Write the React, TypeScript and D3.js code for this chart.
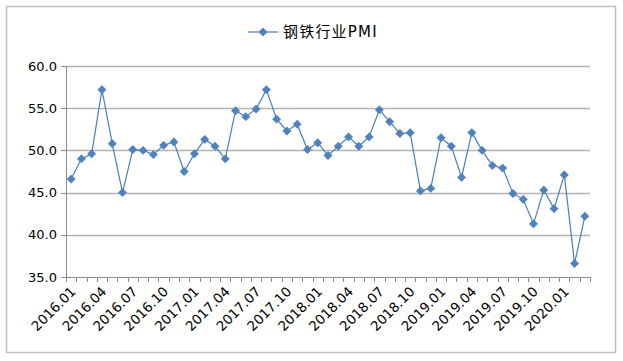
import React from "react";
import * as d3 from "d3";

const months: string[] = [];
for (let y = 2016; y <= 2020; y++) {
  for (let m = 1; m <= 12; m++) {
    if (y === 2020 && m > 3) break;
    months.push(`${y}.${String(m).padStart(2, "0")}`);
  }
}
const pmi = [
  46.6, 49.0, 49.6, 57.2, 50.8, 45.0, 50.1, 50.0, 49.5, 50.6, 51.0, 47.5,
  49.6, 51.3, 50.5, 49.0, 54.7, 54.0, 54.9, 57.2, 53.7, 52.3, 53.1, 50.1,
  50.9, 49.4, 50.5, 51.6, 50.5, 51.6, 54.8, 53.4, 52.0, 52.1, 45.2, 45.5,
  51.5, 50.5, 46.8, 52.1, 50.0, 48.2, 47.9, 44.9, 44.2, 41.3, 45.3, 43.1,
  47.1, 36.6, 42.2,
];
const yTicks = [35, 40, 45, 50, 55, 60];
const seriesName = "钢铁行业PMI";

const W = 623, H = 361;
const L = 66, R = 590, T = 66, B = 277;
const blue = "#4a7ebb";
const font = "'DejaVu Sans', 'Liberation Sans', sans-serif";
const legendFont = "'DejaVu Sans', 'Noto Sans CJK SC', sans-serif";

export default function App() {
  const x = d3.scaleBand<string>().domain(months).range([L, R]);
  const y = d3.scaleLinear().domain([35, 60]).range([B, T]);
  const line = d3
    .line<number>()
    .x((_, i) => x(months[i])! + x.bandwidth() / 2)
    .y((d) => y(d));
  const diamond = (cx: number, cy: number, r = 4.2) =>
    `M${cx},${cy - r}L${cx + r},${cy}L${cx},${cy + r}L${cx - r},${cy}Z`;
  const bounds = months.map((m) => x(m)!).concat([R]);
  return (
    <svg width={W} height={H} style={{ position: "absolute", left: 0, top: 0 }}>
      <rect x={0} y={0} width={W} height={H} fill="#fff" />
      <rect x={6.5} y={6.5} width={609} height={346} fill="#fff" stroke="#bfbfbf" strokeWidth={1.5} />
      {yTicks.map((t) => (
        <g key={t}>
          {t !== 35 && (
            <line x1={L} x2={R} y1={Math.round(y(t)) + 0.5} y2={Math.round(y(t)) + 0.5} stroke="#b3b3b3" strokeWidth={1.3} />
          )}
          <text x={L - 9} y={y(t)} dy="0.36em" textAnchor="end" fontFamily={font} fontSize={13} fill="#000">
            {t.toFixed(1)}
          </text>
        </g>
      ))}
      {yTicks.map((t) => (
        <line key={"yt" + t} x1={L - 5} x2={L} y1={Math.round(y(t)) + 0.5} y2={Math.round(y(t)) + 0.5} stroke="#8c8c8c" />
      ))}
      <line x1={L + 0.5} x2={L + 0.5} y1={T} y2={B + 5} stroke="#8c8c8c" />
      <line x1={L} x2={R} y1={B + 0.5} y2={B + 0.5} stroke="#8c8c8c" />
      {bounds.map((bx, i) => (
        <line key={"xt" + i} x1={Math.round(bx) + 0.5} x2={Math.round(bx) + 0.5} y1={B} y2={B + 5} stroke="#8c8c8c" />
      ))}
      <path d={line(pmi)!} fill="none" stroke={blue} strokeWidth={1.2} />
      {pmi.map((v, i) => (
        <path key={"p" + i} d={diamond(x(months[i])! + x.bandwidth() / 2, y(v))} fill="#4f81bd" stroke="#4a7ebb" strokeWidth={0.5} />
      ))}
      {months.map((m, i) =>
        i % 3 === 0 ? (
          <text
            key={"xl" + m}
            transform={`translate(${x(m)! + x.bandwidth() / 2 + 2},${B + 12}) rotate(-45)`}
            textAnchor="end"
            dy="0.36em"
            fontFamily={font}
            fontSize={13.5}
            fill="#000"
          >
            {m}
          </text>
        ) : null
      )}
      <g>
        <line x1={248} x2={278} y1={32} y2={32} stroke={blue} strokeWidth={1.2} />
        <path d={diamond(263, 32)} fill="#4f81bd" stroke="#4a7ebb" strokeWidth={0.5} />
        <text x={283} y={32} dy="0.36em" fontFamily={legendFont} fontSize={15} letterSpacing={1.2} fill="#000">
          {seriesName}
        </text>
      </g>
    </svg>
  );
}
